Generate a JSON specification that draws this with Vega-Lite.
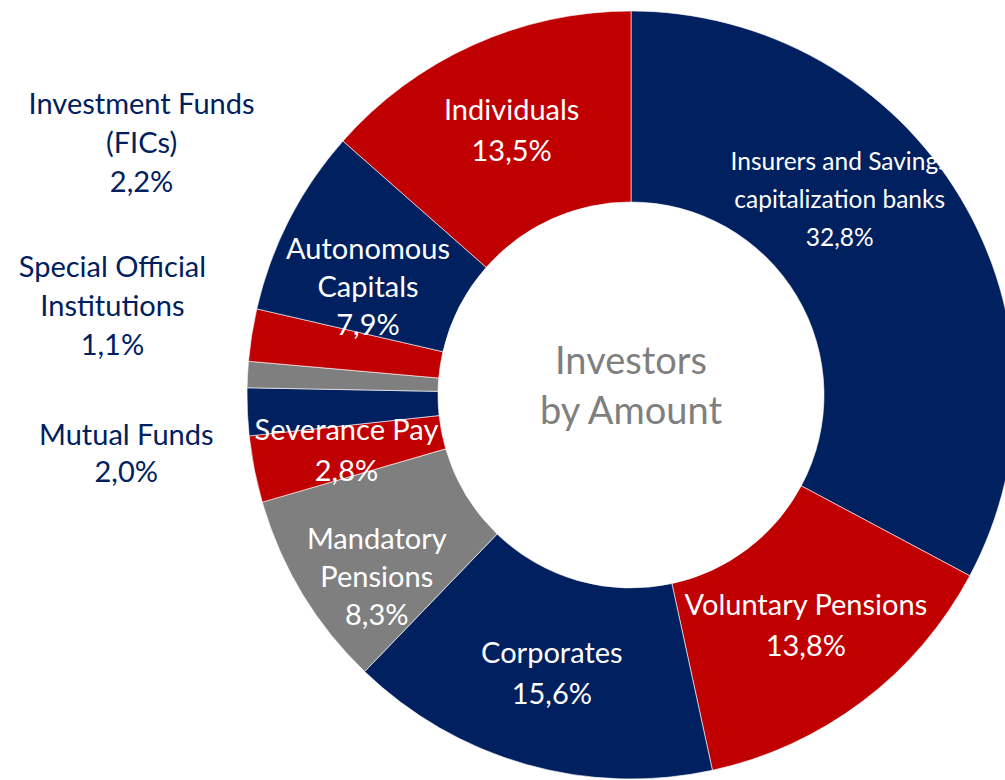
{
  "$schema": "https://vega.github.io/schema/vega-lite/v6.json",
  "width": 1262,
  "height": 790,
  "autosize": {"type": "none"},
  "padding": {"left": 0, "top": 0, "right": -257, "bottom": -10},
  "background": "white",
  "config": {"view": {"stroke": null}, "text": {"font": "Lato"}},
  "data": {"values": [
    {"name": "Insurers and Savings capitalization banks", "value": 32.8, "rank": 1, "label": "Insurers and Savings\ncapitalization banks\n32,8%"},
    {"name": "Voluntary Pensions", "value": 13.8, "rank": 2, "label": "Voluntary Pensions\n13,8%"},
    {"name": "Corporates", "value": 15.6, "rank": 3, "label": "Corporates\n15,6%"},
    {"name": "Mandatory Pensions", "value": 8.3, "rank": 4, "label": "Mandatory\nPensions\n8,3%"},
    {"name": "Severance Pay", "value": 2.8, "rank": 5, "label": "Severance Pay\n2,8%"},
    {"name": "Mutual Funds", "value": 2.0, "rank": 6, "label": "Mutual Funds\n2,0%"},
    {"name": "Special Official Institutions", "value": 1.1, "rank": 7, "label": "Special Official\nInstitutions\n1,1%"},
    {"name": "Investment Funds (FICs)", "value": 2.2, "rank": 8, "label": "Investment Funds\n(FICs)\n2,2%"},
    {"name": "Autonomous Capitals", "value": 7.9, "rank": 9, "label": "Autonomous\nCapitals\n7,9%"},
    {"name": "Individuals", "value": 13.5, "rank": 10, "label": "Individuals\n13,5%"}
  ]},
  "layer": [
    {
      "mark": {"type": "arc", "outerRadius": 384, "innerRadius": 193, "stroke": "#ffffff", "strokeWidth": 0.6},
      "encoding": {
        "theta": {"field": "value", "type": "quantitative", "stack": true},
        "order": {"field": "rank", "type": "quantitative"},
        "color": {
          "field": "name", "type": "nominal", "legend": null,
          "scale": {
            "domain": ["Insurers and Savings capitalization banks", "Voluntary Pensions", "Corporates", "Mandatory Pensions", "Severance Pay", "Mutual Funds", "Special Official Institutions", "Investment Funds (FICs)", "Autonomous Capitals", "Individuals"],
            "range": ["#002060", "#C00000", "#002060", "#7F7F7F", "#C00000", "#002060", "#7F7F7F", "#C00000", "#002060", "#C00000"]
          }
        }
      }
    },
    {
      "mark": {"type": "text", "radius": 290, "dy": -20, "fontSize": 29, "lineHeight": 41, "lineBreak": "\n", "fill": "#ffffff", "align": "center", "baseline": "middle"},
      "encoding": {
        "theta": {"field": "value", "type": "quantitative", "stack": true},
        "order": {"field": "rank", "type": "quantitative"},
        "text": {"condition": {"test": "datum.rank == 2 || datum.rank == 3 || datum.rank == 5 || datum.rank == 10", "field": "label", "type": "nominal"}, "value": ""}
      }
    },
    {
      "mark": {"type": "text", "radius": 290, "dx": -6, "dy": -5, "fontSize": 29, "lineHeight": 38, "lineBreak": "\n", "fill": "#ffffff", "align": "center", "baseline": "middle"},
      "encoding": {
        "theta": {"field": "value", "type": "quantitative", "stack": true},
        "order": {"field": "rank", "type": "quantitative"},
        "text": {"condition": {"test": "datum.rank == 4", "field": "label", "type": "nominal"}, "value": ""}
      }
    },
    {
      "mark": {"type": "text", "radius": 290, "dx": -5, "dy": -13, "fontSize": 29, "lineHeight": 38, "lineBreak": "\n", "fill": "#ffffff", "align": "center", "baseline": "middle"},
      "encoding": {
        "theta": {"field": "value", "type": "quantitative", "stack": true},
        "order": {"field": "rank", "type": "quantitative"},
        "text": {"condition": {"test": "datum.rank == 9", "field": "label", "type": "nominal"}, "value": ""}
      }
    },
    {
      "mark": {"type": "text", "radius": 290, "dx": -40, "dy": -83, "fontSize": 24.5, "lineHeight": 38, "lineBreak": "\n", "fill": "#ffffff", "align": "center", "baseline": "middle"},
      "encoding": {
        "theta": {"field": "value", "type": "quantitative", "stack": true},
        "order": {"field": "rank", "type": "quantitative"},
        "text": {"condition": {"test": "datum.rank == 1", "field": "label", "type": "nominal"}, "value": ""}
      }
    },
    {
      "mark": {"type": "text", "radius": 290, "dx": -203, "dy": -245, "fontSize": 29, "lineHeight": 39, "lineBreak": "\n", "fill": "#002060", "align": "center", "baseline": "middle"},
      "encoding": {
        "theta": {"field": "value", "type": "quantitative", "stack": true},
        "order": {"field": "rank", "type": "quantitative"},
        "text": {"condition": {"test": "datum.rank == 8", "field": "label", "type": "nominal"}, "value": ""}
      }
    },
    {
      "mark": {"type": "text", "radius": 290, "dx": -229, "dy": -112, "fontSize": 29, "lineHeight": 39, "lineBreak": "\n", "fill": "#002060", "align": "center", "baseline": "middle"},
      "encoding": {
        "theta": {"field": "value", "type": "quantitative", "stack": true},
        "order": {"field": "rank", "type": "quantitative"},
        "text": {"condition": {"test": "datum.rank == 7", "field": "label", "type": "nominal"}, "value": ""}
      }
    },
    {
      "mark": {"type": "text", "radius": 290, "dx": -215, "dy": 28, "fontSize": 29, "lineHeight": 37, "lineBreak": "\n", "fill": "#002060", "align": "center", "baseline": "middle"},
      "encoding": {
        "theta": {"field": "value", "type": "quantitative", "stack": true},
        "order": {"field": "rank", "type": "quantitative"},
        "text": {"condition": {"test": "datum.rank == 6", "field": "label", "type": "nominal"}, "value": ""}
      }
    },
    {
      "data": {"values": [{"title": "Investors\nby Amount"}]},
      "mark": {"type": "text", "dy": -32, "fontSize": 38, "lineHeight": 50, "lineBreak": "\n", "fill": "#7F7F7F", "align": "center", "baseline": "middle"},
      "encoding": {
        "text": {"field": "title", "type": "nominal"}
      }
    }
  ]
}
